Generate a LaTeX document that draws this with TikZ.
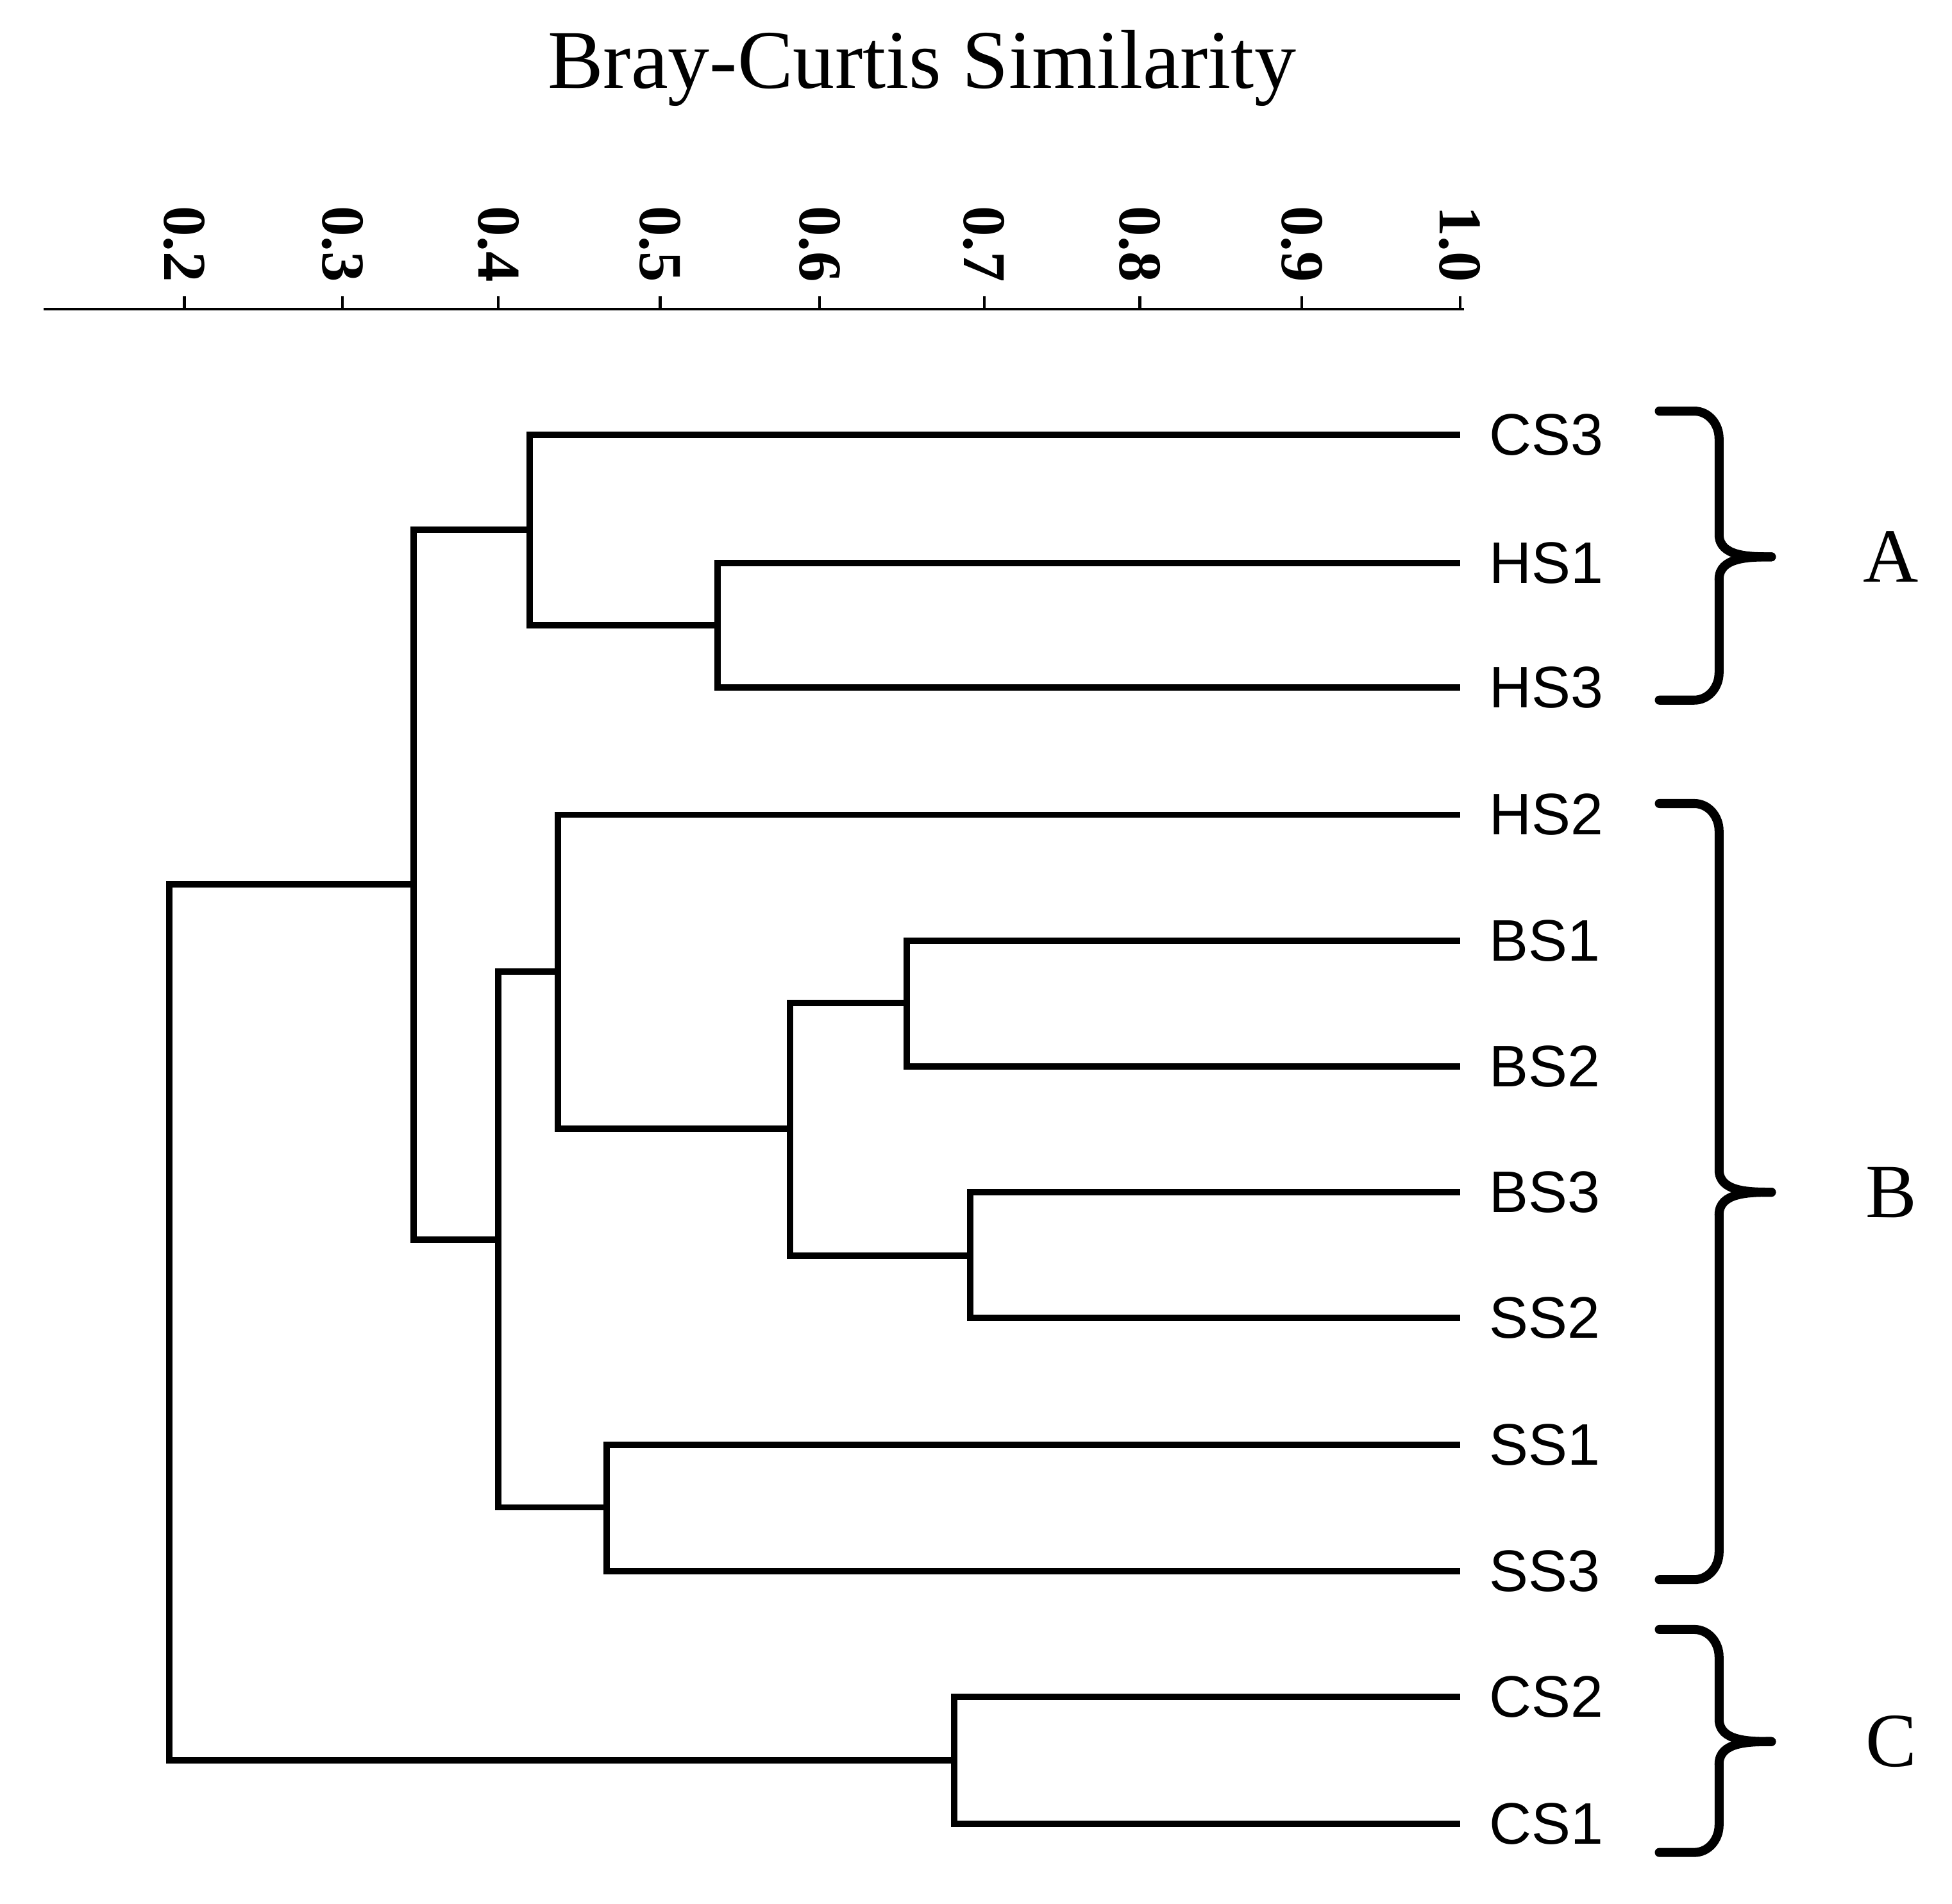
\documentclass[tikz,border=0pt]{standalone}
\usepackage{fontspec}
\setmainfont{Liberation Serif}
\newfontfamily\sansf{Liberation Sans}
\begin{document}
\begin{tikzpicture}[x=0.01942cm,y=-0.01942cm,
  br/.style={line width=2.8pt},
  leaf/.style={anchor=west,font=\sansf\fontsize{26}{26}\selectfont,inner sep=0pt},
  tick/.style={rotate=-90,font=\bfseries\fontsize{27}{27}\selectfont,anchor=west,inner sep=0pt},
  grp/.style={font=\fontsize{34}{34}\selectfont,inner sep=0pt},
  brace/.style={line width=4pt,line cap=round}]
\useasboundingbox (0,0) rectangle (1567,1528);
\node (title) at (740,55) {\fontsize{37}{37}\selectfont Bray-Curtis Similarity};
% axis
\coordinate (ax0) at (35,248); \coordinate (ax1) at (1175,248);
\draw[line width=1.2pt] (ax0) -- (ax1);
\foreach \v/\x in {0.2/148,0.3/275,0.4/400,0.5/530,0.6/658,0.7/790,0.8/915,0.9/1045,1.0/1172}{
  \node[tick] (t\x) at (\x,165) {\v};
  \draw[line width=1.2pt] (\x,248) -- (\x,238);
}
% leaves
\foreach \n/\y in {CS3/349,HS1/452,HS3/552,HS2/654,BS1/755,BS2/856,BS3/957,SS2/1058,SS1/1160,SS3/1261,CS2/1362,CS1/1464}{
  \coordinate (\n) at (1172,\y);
  \node[leaf] (l\n) at (1195,\y) {\n};
}
% merges
\coordinate (m1a) at (576,452); \coordinate (m1b) at (576,552); \coordinate (m1) at (576,502);
\draw[br] (HS1) -- (m1a) -- (m1b) -- (HS3);
\coordinate (m2a) at (425,349); \coordinate (m2b) at (425,502); \coordinate (m2) at (425,425);
\draw[br] (CS3) -- (m2a) -- (m2b) -- (m1);
\coordinate (m3a) at (728,755); \coordinate (m3b) at (728,856); \coordinate (m3) at (728,805);
\draw[br] (BS1) -- (m3a) -- (m3b) -- (BS2);
\coordinate (m4a) at (779,957); \coordinate (m4b) at (779,1058); \coordinate (m4) at (779,1008);
\draw[br] (BS3) -- (m4a) -- (m4b) -- (SS2);
\coordinate (m5a) at (634,805); \coordinate (m5b) at (634,1008); \coordinate (m5) at (634,906);
\draw[br] (m3) -- (m5a) -- (m5b) -- (m4);
\coordinate (m6a) at (448,654); \coordinate (m6b) at (448,906); \coordinate (m6) at (448,780);
\draw[br] (HS2) -- (m6a) -- (m6b) -- (m5);
\coordinate (m7a) at (487,1160); \coordinate (m7b) at (487,1261); \coordinate (m7) at (487,1210);
\draw[br] (SS1) -- (m7a) -- (m7b) -- (SS3);
\coordinate (m8a) at (400,780); \coordinate (m8b) at (400,1210); \coordinate (m8) at (400,995);
\draw[br] (m6) -- (m8a) -- (m8b) -- (m7);
\coordinate (m9a) at (332,425); \coordinate (m9b) at (332,995); \coordinate (m9) at (332,710);
\draw[br] (m2) -- (m9a) -- (m9b) -- (m8);
\coordinate (m10a) at (766,1362); \coordinate (m10b) at (766,1464); \coordinate (m10) at (766,1413);
\draw[br] (CS2) -- (m10a) -- (m10b) -- (CS1);
\coordinate (m11a) at (136,710); \coordinate (m11b) at (136,1413);
\draw[br] (m9) -- (m11a) -- (m11b) -- (m10);
% braces
\foreach \t/\m/\b/\L in {330/447/562/A,645/957/1268/B,1308/1398/1487/C}{
  \draw[brace] (1332,\t) -- (1360,\t) to[out=0,in=90] (1380,\t+22) -- (1380,\m-18)
     to[out=-90,in=180] (1422,\m) ;
  \draw[brace] (1380,\m+18) to[out=90,in=180] (1422,\m);
  \draw[brace] (1380,\m+18) -- (1380,\b-22) to[out=-90,in=0] (1360,\b) -- (1332,\b);
  \node[grp] (g\L) at (1518,\m) {\L};
}
\end{tikzpicture}
\end{document}
